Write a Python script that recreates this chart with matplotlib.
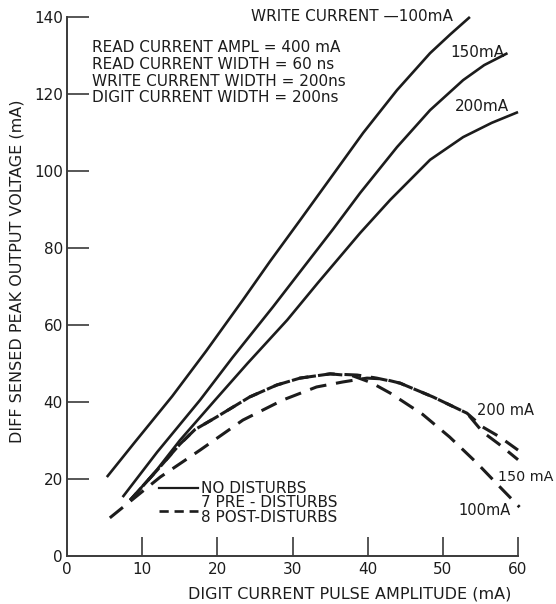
import matplotlib
matplotlib.use("Agg")
import matplotlib.pyplot as plt
from matplotlib.lines import Line2D

# Digit current pulse amplitude (mA) vs. differential sensed peak output (mA)
# Solid curves: no disturbs, one per write current
solid_100_x = [5.3, 9, 14, 18.5, 23.4, 27, 31, 35, 39.4, 43.9, 48.3, 51, 53.6]
solid_100_y = [20.5, 29.5, 41.5, 53.2, 66.5, 76.5, 87.2, 98, 109.9, 121, 130.6, 135.5, 140]

solid_150_x = [7.4, 12, 17.7, 22, 27.4, 31, 35.4, 39, 43.9, 48.3, 52.7, 55.5, 58.6]
solid_150_y = [15.3, 27, 40.5, 51.5, 64.7, 73.8, 84.9, 94.3, 106.2, 115.8, 123.6, 127.5, 130.6]

solid_200_x = [8.4, 12, 15, 19.7, 24, 29.3, 33.4, 39, 43, 48.3, 52.7, 56.5, 60]
solid_200_y = [14.5, 22.5, 30, 40.5, 50, 61.3, 71, 83.9, 92.5, 102.9, 108.8, 112.5, 115.3]

# Dashed curves: 7 pre-disturbs, 8 post-disturbs
dash_100_x = [8.4, 12, 15, 17, 19.9, 24.3, 27.9, 31, 35, 38, 40.5, 43, 47.3, 50.9, 54.5, 58, 60.2]
dash_100_y = [14.5, 22.3, 29, 32.8, 36.1, 41.3, 44.4, 46.2, 47.3, 46.8, 45, 42.3, 36.8, 30.9, 24.2, 17.1, 12.7]

dash_150_x = [8.4, 12, 15, 17, 19.9, 24.3, 27.9, 31, 35, 38.6, 41.2, 44.3, 48.7, 53.2, 55.3, 57.5, 60]
dash_150_y = [14.5, 22.3, 29, 32.8, 36.1, 41.3, 44.4, 46.2, 47.3, 47.0, 46.2, 44.9, 41.3, 37.1, 32.2, 29, 25]

dash_200_x = [5.7, 8.1, 12.4, 17.7, 23.4, 28.7, 33.2, 36.7, 39.9, 42, 44.3, 48.7, 53.2, 55.3, 57.5, 60]
dash_200_y = [9.9, 13.7, 20.5, 27.5, 35.3, 40.5, 43.9, 45.2, 46.2, 46.0, 44.9, 41.3, 37.1, 33.5, 31, 27.5]

x_ticks = [0, 10, 20, 30, 40, 50, 60]
y_ticks = [0, 20, 40, 60, 80, 100, 120, 140]

conditions = [
    "READ CURRENT AMPL = 400 mA",
    "READ CURRENT WIDTH = 60 ns",
    "WRITE CURRENT WIDTH = 200ns",
    "DIGIT CURRENT WIDTH = 200ns",
]

INK = "#1c1c1c"
AXIS = "#3a3a3a"
plt.rcParams["font.family"] = ["DejaVu Sans"]

fig = plt.figure(figsize=(5.56, 6.04), dpi=100)
ax = fig.add_axes([0.1205, 0.0795, 0.8112, 0.8924])

lw = 1.9
for xs, ys in [(solid_100_x, solid_100_y), (solid_150_x, solid_150_y), (solid_200_x, solid_200_y)]:
    ax.plot(xs, ys, color=INK, lw=lw, solid_capstyle="butt", solid_joinstyle="round", clip_on=False)
dash_styles = [(0, (5.5, 3.2)), (2.5, (5.5, 3.2)), (0, (5.5, 3.2))]
for (xs, ys), ls in zip([(dash_100_x, dash_100_y), (dash_150_x, dash_150_y), (dash_200_x, dash_200_y)],
                        dash_styles):
    ax.plot(xs, ys, color=INK, lw=lw + 0.3, linestyle=ls, dash_capstyle="butt",
            dash_joinstyle="round", clip_on=False)

ax.set_xlim(0, 60)
ax.set_ylim(0, 140)
for side in ("top", "right"):
    ax.spines[side].set_visible(False)
for side in ("left", "bottom"):
    ax.spines[side].set_color(AXIS)
    ax.spines[side].set_linewidth(1.4)

ax.set_xticks(x_ticks)
ax.set_yticks(y_ticks)
ax.tick_params(axis="y", direction="in", length=16, width=1.2, color=AXIS,
               labelsize=11, pad=3, labelcolor=INK)
ax.tick_params(axis="x", direction="in", length=14, width=1.2, color=AXIS,
               labelsize=11, pad=4, labelcolor=INK)
ax.yaxis.get_major_ticks()[0].tick1line.set_visible(False)
ax.xaxis.get_major_ticks()[0].tick1line.set_visible(False)

ax.set_xlabel("DIGIT CURRENT PULSE AMPLITUDE (mA)", fontsize=11.5, color=INK)
ax.xaxis.set_label_coords(0.627, -0.0575)
ax.set_ylabel("DIFF SENSED PEAK OUTPUT VOLTAGE (mA)", fontsize=11.5, color=INK)
ax.yaxis.set_label_coords(-0.094, 0.529)

tkw = dict(color=INK, transform=ax.transAxes, va="center", clip_on=False)
ax.text(0.408, 1.0, "WRITE CURRENT —100mA", ha="left", fontsize=11, **tkw)
ax.text(0.849, 0.935, "150mA", ha="left", fontsize=11, **tkw)
ax.text(0.860, 0.833, "200mA", ha="left", fontsize=11, **tkw)
ax.text(0.909, 0.269, "200 mA", ha="left", fontsize=10.5, **tkw)
ax.text(0.956, 0.147, "150 mA", ha="left", fontsize=10.3, **tkw)
ax.text(0.867, 0.084, "100mA", ha="left", fontsize=10.5, **tkw)

for i, line in enumerate(conditions):
    ax.text(0.055, 0.943 - i * 0.031, line, ha="left", fontsize=11, **tkw)

handles = [
    Line2D([], [], color=INK, lw=1.6),
    Line2D([], [], color=INK, lw=1.9, linestyle=(0, (3.5, 2.2))),
]
leg = ax.legend(handles, ["NO DISTURBS", "7 PRE - DISTURBS\n8 POST-DISTURBS"],
                loc="upper left", bbox_to_anchor=(0.205, 0.139), frameon=False,
                fontsize=11, handlelength=2.5, handletextpad=0.2, borderpad=0,
                labelspacing=-0.05, borderaxespad=0, labelcolor=INK)
for t in leg.get_texts():
    t.set_linespacing(0.95)

fig.savefig("out.png", dpi=100, facecolor="white")
